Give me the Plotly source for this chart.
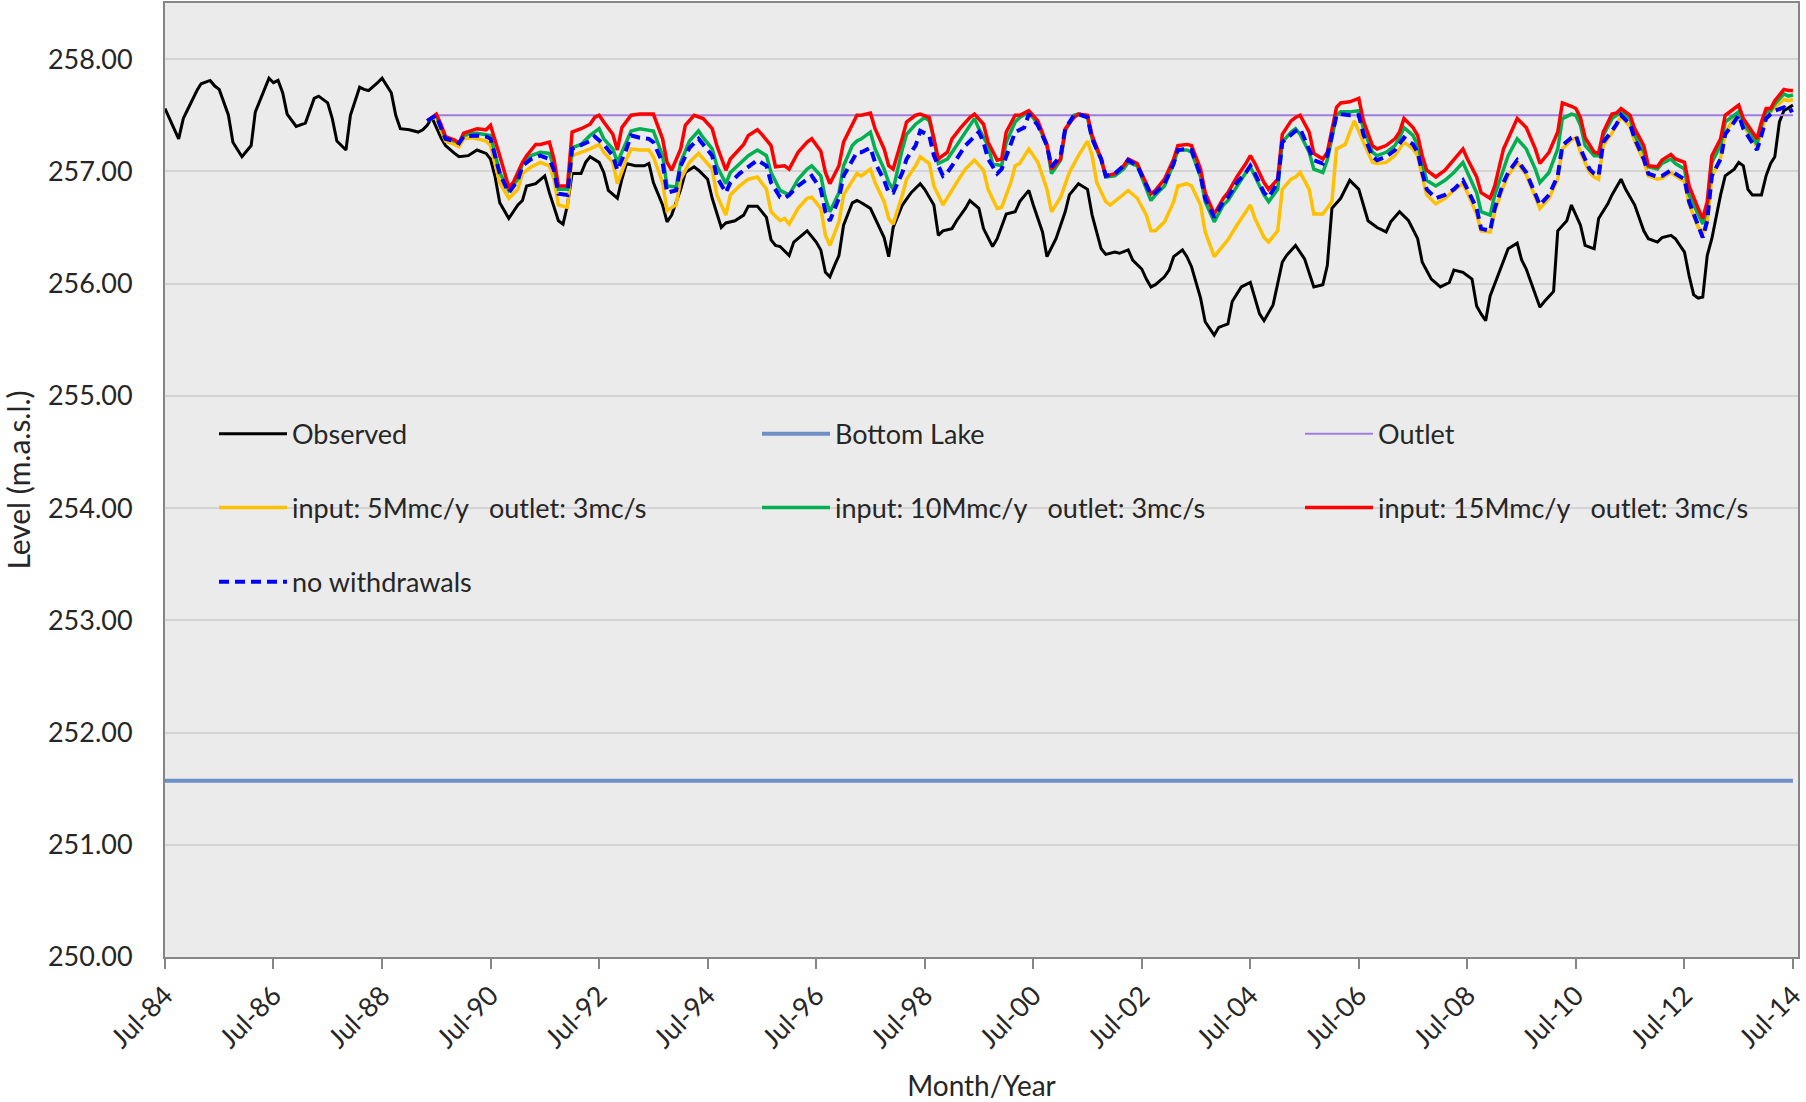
import plotly.graph_objects as go

# ---------------- DATA (months counted from Jul-1984) ----------------
obs_m = [0,3,4,6,7,8,10,11,12,14,15,17,19,20,22,23,24,25,26,27,29,31,33,34,36,37,38,40,41,43,44,45,47,48,50,51,52,54,56,57,58,59,61,62,64,65,67,69,71,72,73,74,
         76,78,79,80,82,84,85,87,88,89,90,92,93,94,96,97,98,100,101,102,104,106,107,108,110,111,112,114,115,117,118,120,121,123,124,126,128,129,131,133,134,135,136,138,139,141,142,144,145,146,147,148,149,150,
         152,153,154,156,157,159,160,161,163,165,167,168,170,171,172,174,175,177,178,180,181,183,184,186,188,189,191,192,194,195,197,199,200,202,204,205,207,208,210,211,213,214,216,217,
         218,219,221,222,223,225,226,227,229,230,232,233,235,236,238,240,241,242,243,245,247,248,250,252,254,256,257,258,260,262,264,266,268,270,271,273,275,277,278,280,282,284,285,287,289,
         290,291,292,293,295,296,297,299,300,301,303,304,305,307,308,310,311,313,314,316,317,319,320,322,323,325,327,328,330,331,333,334,336,337,338,339,340,341,342,344,345,347,348,349,350,351,353,354,355,356,357,358,360]
obs_v = [257.56,257.29,257.47,257.64,257.72,257.78,257.81,257.76,257.73,257.50,257.26,257.13,257.23,257.53,257.73,257.83,257.79,257.81,257.70,257.51,257.40,257.43,257.65,257.67,257.61,257.47,257.27,257.19,257.50,257.75,257.73,257.72,257.79,257.83,257.70,257.50,257.38,257.37,257.35,257.37,257.41,257.48,257.30,257.23,257.16,257.13,257.14,257.19,257.16,257.11,256.95,256.72,
         256.58,256.70,256.74,256.87,256.89,256.96,256.81,256.56,256.53,256.70,256.98,256.98,257.08,257.13,257.08,256.99,256.83,256.76,256.93,257.07,257.05,257.05,257.07,256.90,256.70,256.55,256.61,256.84,256.99,257.04,257.01,256.93,256.76,256.50,256.54,256.56,256.61,256.69,256.69,256.59,256.39,256.34,256.33,256.25,256.37,256.44,256.47,256.37,256.30,256.10,256.06,256.16,256.25,256.52,
         256.72,256.74,256.72,256.67,256.58,256.41,256.24,256.50,256.70,256.81,256.89,256.84,256.70,256.43,256.47,256.49,256.56,256.67,256.74,256.67,256.49,256.33,256.40,256.62,256.64,256.73,256.83,256.70,256.46,256.24,256.40,256.64,256.79,256.89,256.84,256.61,256.31,256.26,256.28,256.27,256.30,256.21,256.13,256.04,
         255.97,255.99,256.06,256.12,256.24,256.30,256.24,256.15,255.87,255.66,255.54,255.61,255.64,255.84,255.97,256.01,255.87,255.73,255.67,255.81,256.19,256.25,256.34,256.22,255.97,255.99,256.16,256.67,256.76,256.92,256.84,256.56,256.50,256.46,256.55,256.64,256.56,256.40,256.19,256.04,255.97,256.01,256.12,256.10,256.04,
         255.80,255.73,255.67,255.89,256.10,256.19,256.31,256.36,256.21,256.13,255.90,255.79,255.84,255.93,256.47,256.56,256.70,256.52,256.34,256.31,256.58,256.71,256.79,256.93,256.84,256.70,256.47,256.40,256.37,256.41,256.43,256.40,256.28,256.07,255.90,255.87,255.88,256.25,256.40,256.79,256.96,257.02,257.08,257.05,256.84,256.79,256.79,256.96,257.07,257.13,257.44,257.54,257.59]

# month grids shared by the simulated series (by section of the record)
sim_m_start = [58,60,61,62,64,65,66,68,69,71]
sim_m_0306 = [218,219,221,223,224,226,227,229,230,232,234,235,237,239,240,241,243,244,246,247,249,250,251,253,254,256,257,259,260,262,264,265,267,268,270,272,273,274,276,277,278,279,281,283,285,287,288,290,291,293]
sim_m_0814a = [294,296,297,299,301,303,304,306,308,309,311,312,313,314,316,317,318,320,321,322,324,325,327,328,330,331,333,334,336,337,339,340,341,342,344,345,347,348,349,351,352,353,354,355,356,358,359,360]
sim_m_0814b = [294,296,297,299,301,303,304,306,308,309,311,312,313,315,316,317,318,320,321,322,324,325,327,328,330,331,333,334,336,337,339,340,341,342,344,345,347,348,349,351,352,353,354,355,356,358,359,360]

# input: 15Mmc/y (red)
red_m = sim_m_start + [72,74,76,77,79,80,82,83,85,86,87,89,90,92,94,95,96,97,99,100,101,103,105,107,108,110,111,112,114,115,117,119,121,122,124,125,127,128,129,131,132,134,135,137,138,140,142,143,145,
                       146,147,149,150,152,153,154,156,157,159,160,161,163,164,166,167,169,170,171,173,174,176,178,179,181,182,184,185,186,188,189,191,193,195,196,198,199,201,202,204,205,207,208,210,212,213,215,216] + sim_m_0306 + sim_m_0814a
red_v = [257.45,257.51,257.42,257.31,257.28,257.25,257.34,257.37,257.38,257.37,
         257.41,257.14,256.86,256.90,257.08,257.14,257.24,257.24,257.26,257.11,256.87,256.87,257.35,257.38,257.42,257.48,257.50,257.44,257.33,257.19,257.39,257.50,257.51,257.51,257.51,257.29,257.08,257.01,257.20,257.41,257.50,257.47,257.38,257.23,257.01,257.11,257.20,257.24,257.32,257.37,257.33,257.23,257.04,257.05,257.02,257.17,257.26,257.29,257.18,
         256.99,256.89,257.05,257.26,257.42,257.50,257.50,257.52,257.38,257.20,257.05,257.02,257.30,257.44,257.50,257.51,257.48,257.29,257.11,257.17,257.29,257.39,257.48,257.51,257.42,257.26,257.10,257.11,257.35,257.50,257.50,257.54,257.45,257.24,257.02,257.11,257.38,257.48,257.51,257.50,257.32,257.11,256.96,256.98,257.05,257.11,257.07,256.98,
         256.80,256.83,256.93,257.11,257.23,257.24,257.23,257.02,256.81,256.62,256.76,256.81,256.95,257.07,257.14,257.07,256.90,256.84,256.93,257.33,257.45,257.48,257.50,257.35,257.16,257.11,257.17,257.57,257.61,257.62,257.65,257.45,257.23,257.20,257.23,257.29,257.35,257.47,257.39,257.32,257.14,257.01,256.95,257.01,257.11,257.20,257.11,256.95,256.81,256.76,
         256.87,257.20,257.29,257.47,257.39,257.20,257.07,257.17,257.35,257.61,257.58,257.56,257.48,257.30,257.17,257.16,257.35,257.51,257.52,257.56,257.50,257.38,257.23,257.05,257.04,257.10,257.15,257.11,257.08,256.87,256.67,256.58,256.73,257.14,257.29,257.50,257.56,257.59,257.47,257.35,257.29,257.44,257.56,257.56,257.63,257.73,257.72,257.72]

# input: 10Mmc/y (green)
green_m = sim_m_start + [72,74,76,78,79,81,83,85,86,87,89,90,92,94,96,97,99,100,102,103,105,107,108,110,111,113,114,116,118,119,121,122,124,125,127,129,131,133,134,136,137,138,140,142,143,145,
                         146,147,149,150,152,153,154,156,157,159,160,161,163,164,166,168,169,170,171,173,175,177,179,180,182,183,185,186,188,189,191,193,195,196,198,199,201,202,204,205,207,208,210,212,213,215,216] + sim_m_0306 + sim_m_0814a
green_v = [257.45,257.50,257.40,257.30,257.27,257.25,257.32,257.34,257.34,257.33,
           257.32,256.99,256.83,256.93,257.07,257.14,257.17,257.16,257.04,256.84,256.84,257.21,257.24,257.32,257.38,257.29,257.20,257.08,257.26,257.36,257.38,257.37,257.36,257.14,256.87,256.86,257.08,257.27,257.36,257.30,257.20,257.05,256.89,256.99,257.07,257.14,257.19,257.14,256.99,256.83,256.81,256.79,256.93,257.02,257.05,256.96,
           256.76,256.64,256.81,257.05,257.23,257.27,257.29,257.35,257.20,257.02,256.90,256.84,257.20,257.33,257.42,257.48,257.45,257.29,257.07,257.11,257.23,257.35,257.47,257.38,257.23,257.07,257.05,257.26,257.44,257.48,257.53,257.42,257.23,256.98,257.10,257.36,257.50,257.51,257.48,257.29,257.10,256.95,256.96,257.02,257.08,257.05,256.95,
           256.74,256.79,256.87,257.07,257.19,257.19,257.17,256.95,256.73,256.55,256.70,256.74,256.87,256.99,257.04,256.96,256.79,256.73,256.84,257.26,257.35,257.38,257.33,257.17,257.02,256.99,257.10,257.50,257.53,257.53,257.54,257.38,257.17,257.14,257.17,257.23,257.30,257.39,257.32,257.23,257.07,256.92,256.87,256.92,256.99,257.08,256.99,256.81,256.64,256.61,
           256.79,257.02,257.14,257.29,257.20,257.02,256.90,256.99,257.20,257.47,257.51,257.50,257.41,257.23,257.14,257.14,257.32,257.47,257.50,257.54,257.47,257.32,257.17,257.04,257.02,257.07,257.11,257.07,257.02,256.79,256.61,256.53,256.67,257.08,257.23,257.44,257.50,257.53,257.42,257.32,257.24,257.41,257.53,257.54,257.60,257.69,257.67,257.68]

# input: 5Mmc/y (yellow)
yellow_m = sim_m_start + [72,74,76,78,79,81,83,85,86,87,89,90,92,94,96,97,99,100,102,103,105,107,108,110,111,113,114,116,118,119,121,122,124,125,127,129,131,133,134,136,137,138,140,142,143,145,
                          146,147,149,150,152,153,154,156,157,159,160,161,163,164,166,167,169,170,172,173,175,177,179,181,182,184,185,187,188,189,191,193,195,196,198,200,202,204,205,206,208,209,211,213,215,217,
                          218,219,221,223,224,226,227,229,230,232,234,235,237,239,240,241,243,244,246,247,249,250,251,253,254,256,258,259,261,262,263,265,267,268,270,272,273,274,276,277,278,279,281,283,285,287,288,290,291,293] + sim_m_0814b
yellow_v = [257.45,257.49,257.37,257.27,257.24,257.22,257.29,257.30,257.29,257.27,
            257.23,256.90,256.76,256.84,256.98,257.04,257.08,257.05,256.93,256.70,256.68,257.14,257.17,257.20,257.24,257.17,257.08,256.89,257.11,257.20,257.19,257.19,257.13,256.90,256.65,256.70,256.93,257.08,257.16,257.11,257.02,256.79,256.61,256.79,256.87,256.93,256.95,256.84,256.64,256.56,256.58,256.53,256.67,256.76,256.77,256.67,
            256.43,256.34,256.55,256.79,256.92,256.98,256.96,257.02,256.90,256.73,256.58,256.53,256.79,256.93,257.05,257.13,257.07,256.87,256.70,256.77,256.90,257.02,257.10,257.01,256.84,256.67,256.68,256.90,257.05,257.07,257.20,257.08,256.84,256.64,256.77,256.99,257.14,257.27,257.14,256.90,256.73,256.70,256.77,256.83,256.76,256.61,
            256.47,256.47,256.55,256.73,256.87,256.89,256.87,256.70,256.46,256.24,256.34,256.39,256.52,256.64,256.70,256.58,256.41,256.37,256.47,256.84,256.93,256.95,256.99,256.84,256.62,256.62,256.73,257.20,257.24,257.35,257.45,257.26,257.08,257.07,257.08,257.14,257.20,257.26,257.20,257.14,256.95,256.79,256.71,256.76,256.83,256.89,256.81,256.62,256.47,256.46,
            256.64,256.87,256.96,257.08,256.97,256.78,256.67,256.76,256.93,257.20,257.28,257.30,257.17,256.99,256.95,256.93,257.23,257.34,257.41,257.49,257.40,257.27,257.09,256.96,256.93,256.94,256.99,256.96,256.91,256.71,256.50,256.45,256.55,256.95,257.12,257.35,257.47,257.52,257.41,257.29,257.22,257.36,257.50,257.53,257.57,257.64,257.63,257.64]

# no withdrawals (blue dashed)
blue_m = sim_m_start + [72,74,76,78,79,81,83,85,86,87,89,90,92,94,95,97,99,100,102,103,105,107,108,110,111,113,114,116,118,119,121,122,124,125,127,129,131,133,134,136,137,138,140,142,143,145,
                        146,147,149,150,152,153,154,156,157,159,160,161,163,164,166,167,169,170,172,173,175,177,180,181,182,184,185,187,188,190,191,193,195,196,198,199,201,202,204,205,207,208,210,212,213,215,216] + sim_m_0306 + sim_m_0814b
blue_v = [257.45,257.50,257.39,257.29,257.27,257.25,257.31,257.32,257.32,257.31,
          257.29,256.98,256.81,256.92,257.05,257.11,257.14,257.11,257.01,256.80,256.79,257.20,257.23,257.27,257.31,257.24,257.14,257.01,257.20,257.32,257.30,257.29,257.26,257.08,256.81,256.83,257.05,257.21,257.29,257.24,257.14,256.95,256.81,256.90,256.98,257.04,257.10,257.05,256.90,256.77,256.76,256.79,256.87,256.93,256.96,256.84,
          256.64,256.56,256.76,256.96,257.11,257.17,257.17,257.21,257.08,256.92,256.81,256.81,256.99,257.11,257.23,257.36,257.32,257.14,256.96,256.99,257.11,257.23,257.35,257.26,257.11,256.98,257.02,257.23,257.35,257.39,257.51,257.41,257.23,257.04,257.14,257.38,257.50,257.51,257.48,257.29,257.11,256.96,256.98,257.05,257.10,257.05,256.96,
          256.79,256.81,256.89,257.07,257.19,257.20,257.19,256.96,256.76,256.59,256.73,256.77,256.90,256.99,257.05,256.98,256.81,256.77,256.90,257.26,257.32,257.36,257.38,257.20,257.10,257.07,257.14,257.50,257.51,257.50,257.50,257.33,257.13,257.10,257.13,257.19,257.25,257.30,257.24,257.17,256.99,256.84,256.76,256.79,256.84,256.92,256.84,256.67,256.49,256.47,
          256.67,256.90,256.99,257.10,256.99,256.81,256.70,256.79,256.96,257.23,257.30,257.32,257.20,257.02,256.98,256.96,257.26,257.36,257.42,257.50,257.42,257.29,257.11,256.98,256.95,256.96,257.01,256.98,256.93,256.73,256.52,256.41,256.56,256.96,257.11,257.33,257.44,257.50,257.38,257.26,257.19,257.32,257.47,257.51,257.54,257.57,257.53,257.55]

# constant reference levels
bottom_lake_m = [0, 360]
bottom_lake_v = [251.57, 251.57]
outlet_m = [60, 360]
outlet_v = [257.50, 257.50]

# axes
y_ticks = [250, 251, 252, 253, 254, 255, 256, 257, 258]
x_tick_m = [0, 24, 48, 72, 96, 120, 144, 168, 192, 216, 240, 264, 288, 312, 336, 360]
x_tick_text = ["Jul-84", "Jul-86", "Jul-88", "Jul-90", "Jul-92", "Jul-94", "Jul-96", "Jul-98",
               "Jul-00", "Jul-02", "Jul-04", "Jul-06", "Jul-08", "Jul-10", "Jul-12", "Jul-14"]

for a, b in [(obs_m, obs_v), (red_m, red_v), (green_m, green_v), (yellow_m, yellow_v), (blue_m, blue_v)]:
    assert len(a) == len(b), (len(a), len(b))


def mdate(m):
    y = 1984 + (6 + m) // 12
    mo = (6 + m) % 12 + 1
    return f"{y}-{mo:02d}-01"


def dates(ms):
    return [mdate(m) for m in ms]


fig = go.Figure()
fig.add_trace(go.Scatter(x=dates(obs_m), y=obs_v, mode="lines", name="Observed",
                         line=dict(color="#000000", width=3), legend="legend"))
fig.add_trace(go.Scatter(x=dates(bottom_lake_m), y=bottom_lake_v, mode="lines", name="Bottom Lake",
                         line=dict(color="#6F8FC8", width=4), legend="legend"))
fig.add_trace(go.Scatter(x=dates(outlet_m), y=outlet_v, mode="lines", name="Outlet",
                         line=dict(color="#A07CE0", width=2), legend="legend"))
fig.add_trace(go.Scatter(x=dates(yellow_m), y=yellow_v, mode="lines", name="input: 5Mmc/y\u00a0\u00a0 outlet: 3mc/s",
                         line=dict(color="#FFC000", width=3.5), legend="legend2"))
fig.add_trace(go.Scatter(x=dates(green_m), y=green_v, mode="lines", name="input: 10Mmc/y\u00a0\u00a0 outlet: 3mc/s",
                         line=dict(color="#00B050", width=3.5), legend="legend2"))
fig.add_trace(go.Scatter(x=dates(red_m), y=red_v, mode="lines", name="input: 15Mmc/y\u00a0\u00a0 outlet: 3mc/s",
                         line=dict(color="#FF0000", width=3.5), legend="legend2"))
fig.add_trace(go.Scatter(x=dates(blue_m), y=blue_v, mode="lines", name="no withdrawals",
                         line=dict(color="#0000FF", width=4, dash="10px,6px"), legend="legend3"))

leg_common = dict(orientation="h", xanchor="left", yanchor="middle", x=0.030,
                  entrywidth=460, itemwidth=68, bgcolor="rgba(0,0,0,0)",
                  font=dict(size=27, color="#262626"), traceorder="normal")

fig.update_layout(
    width=1806, height=1102,
    margin=dict(l=165, r=8, t=3, b=145, autoexpand=False),
    paper_bgcolor="white", plot_bgcolor="#EBEBEB",
    font=dict(family="Lato, 'Liberation Sans', sans-serif", size=27, color="#262626"),
    showlegend=True,
    legend=dict(leg_common, y=0.548),
    legend2=dict(leg_common, y=0.4706),
    legend3=dict(leg_common, y=0.393),
    xaxis=dict(type="date", range=["1984-07-01", "2014-08-04"],
               tickmode="array", tickvals=dates(x_tick_m), ticktext=x_tick_text, tickangle=-45,
               ticklabeloverflow="allow",
               ticks="outside", ticklen=10, tickwidth=1.5, tickcolor="#868686",
               showline=True, linecolor="#868686", linewidth=2, mirror=True,
               showgrid=False, zeroline=False,
               title=dict(text="Month/Year", font=dict(size=28), standoff=30)),
    yaxis=dict(range=[250, 258.5], tickmode="array", tickvals=y_ticks, tickformat=".2f",
               ticks="outside", ticklen=25, tickcolor="rgba(0,0,0,0)",
               showline=True, linecolor="#868686", linewidth=2, mirror=True,
               showgrid=True, gridcolor="#D4D4D4", gridwidth=2, zeroline=False,
               title=dict(text="Level (m.a.s.l.)", font=dict(size=30), standoff=14)),
)

fig.write_html("out.html", config={"displayModeBar": False},
               post_script="document.body.style.margin='0px';document.body.style.overflow='hidden';")
